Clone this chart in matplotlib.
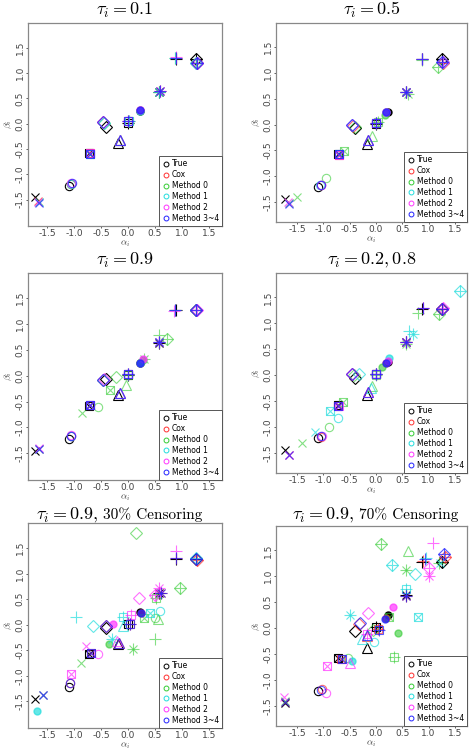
import numpy as np
import matplotlib
matplotlib.use("Agg")
import matplotlib.pyplot as plt
from matplotlib.lines import Line2D

plt.rcParams["mathtext.fontset"] = "cm"

# true coefficients (same in every panel)
alpha_true = [-1.72, -1.10, -0.72, -0.40, -0.18, 0.00, 0.22, 0.58, 0.88, 1.25]
beta_true = [-1.45, -1.22, -0.58, -0.06, -0.38, 0.02, 0.25, 0.63, 1.28, 1.28]

# estimates, rows: Cox, Method 0, Method 1, Method 2, Method 3~4
p1_alpha = [[-1.66, -1.06, -0.70, -0.46, -0.15, 0.00, 0.22, 0.59, 0.88, 1.27],
            [-1.65, -1.05, -0.70, -0.45, -0.15, 0.01, 0.22, 0.58, 0.87, 1.26],
            [-1.65, -1.05, -0.71, -0.45, -0.15, 0.01, 0.22, 0.58, 0.87, 1.26],
            [-1.66, -1.05, -0.70, -0.46, -0.15, 0.00, 0.22, 0.59, 0.88, 1.27],
            [-1.65, -1.04, -0.70, -0.46, -0.15, 0.00, 0.22, 0.59, 0.89, 1.27]]
p1_beta = [[-1.53, -1.20, -0.58, 0.03, -0.32, 0.05, 0.27, 0.64, 1.30, 1.19],
           [-1.54, -1.19, -0.59, 0.02, -0.33, 0.05, 0.26, 0.63, 1.29, 1.19],
           [-1.54, -1.19, -0.59, 0.02, -0.33, 0.05, 0.26, 0.63, 1.29, 1.20],
           [-1.54, -1.18, -0.58, 0.03, -0.32, 0.06, 0.27, 0.64, 1.31, 1.20],
           [-1.56, -1.18, -0.59, 0.03, -0.32, 0.06, 0.27, 0.64, 1.30, 1.20]]

p2_alpha = [[-1.66, -1.05, -0.70, -0.44, -0.16, 0.00, 0.20, 0.58, 0.88, 1.28],
            [-1.50, -0.95, -0.60, -0.40, -0.07, 0.04, 0.17, 0.60, 0.87, 1.17],
            [-1.66, -1.06, -0.71, -0.45, -0.16, 0.01, 0.20, 0.58, 0.88, 1.27],
            [-1.67, -1.05, -0.71, -0.45, -0.16, 0.00, 0.20, 0.57, 0.88, 1.27],
            [-1.65, -1.05, -0.70, -0.45, -0.15, 0.00, 0.20, 0.58, 0.88, 1.26]]
p2_beta = [[-1.53, -1.18, -0.59, -0.02, -0.30, 0.03, 0.25, 0.63, 1.28, 1.20],
           [-1.40, -1.03, -0.52, -0.05, -0.22, 0.05, 0.19, 0.60, 1.25, 1.12],
           [-1.52, -1.18, -0.58, -0.01, -0.30, 0.03, 0.25, 0.63, 1.28, 1.21],
           [-1.50, -1.17, -0.59, -0.01, -0.30, 0.03, 0.25, 0.64, 1.28, 1.22],
           [-1.55, -1.17, -0.58, -0.01, -0.30, 0.03, 0.25, 0.63, 1.28, 1.21]]

p3_alpha = [[-1.65, -1.05, -0.70, -0.46, -0.15, 0.00, 0.22, 0.58, 0.87, 1.26],
            [-0.85, -0.55, -0.33, -0.22, -0.03, 0.00, 0.28, 0.30, 0.57, 0.73],
            [-1.65, -1.05, -0.70, -0.46, -0.15, 0.00, 0.22, 0.58, 0.87, 1.26],
            [-1.65, -1.05, -0.70, -0.45, -0.15, 0.00, 0.28, 0.58, 0.85, 1.27],
            [-1.65, -1.05, -0.70, -0.46, -0.15, 0.00, 0.22, 0.58, 0.87, 1.26]]
p3_beta = [[-1.42, -1.16, -0.57, -0.08, -0.33, 0.03, 0.25, 0.65, 1.28, 1.28],
           [-0.73, -0.60, -0.27, -0.02, -0.17, 0.02, 0.30, 0.33, 0.78, 0.72],
           [-1.42, -1.16, -0.57, -0.08, -0.33, 0.03, 0.25, 0.65, 1.28, 1.28],
           [-1.40, -1.15, -0.57, -0.07, -0.33, 0.03, 0.32, 0.65, 1.26, 1.28],
           [-1.42, -1.16, -0.57, -0.08, -0.33, 0.03, 0.25, 0.65, 1.28, 1.28]]

p4_alpha = [[-1.65, -1.05, -0.72, -0.45, -0.15, 0.00, 0.20, 0.58, 0.90, 1.25],
            [-1.40, -0.90, -0.62, -0.42, -0.07, 0.00, 0.12, 0.58, 0.80, 1.20],
            [-1.15, -0.72, -0.87, -0.32, -0.10, 0.00, 0.25, 0.70, 0.63, 1.60],
            [-1.65, -1.03, -0.70, -0.45, -0.15, 0.00, 0.22, 0.57, 0.90, 1.28],
            [-1.65, -1.05, -0.72, -0.45, -0.15, 0.00, 0.20, 0.58, 0.90, 1.25]]
p4_beta = [[-1.55, -1.19, -0.60, 0.02, -0.32, 0.02, 0.24, 0.63, 1.30, 1.27],
           [-1.32, -1.00, -0.52, 0.00, -0.22, 0.00, 0.15, 0.60, 1.20, 1.18],
           [-1.10, -0.83, -0.70, 0.03, -0.25, 0.02, 0.32, 0.80, 0.85, 1.63],
           [-1.55, -1.17, -0.60, 0.02, -0.32, 0.02, 0.28, 0.63, 1.30, 1.30],
           [-1.55, -1.18, -0.60, 0.02, -0.32, 0.02, 0.24, 0.63, 1.30, 1.27]]

p5_alpha = [[-1.58, -1.08, -0.68, -0.40, -0.17, 0.03, 0.25, 0.62, 0.88, 1.27],
            [-0.87, 0.50, 0.30, 0.15, 0.55, 0.52, -0.35, 0.10, 0.50, 0.97],
            [-1.58, 0.60, 0.40, -0.65, -0.10, -0.10, -1.68, -0.30, -0.97, 1.25],
            [-0.78, -0.55, -1.05, 0.20, -0.20, 0.05, -0.27, 0.58, 0.88, 0.50],
            [-1.58, -1.08, -0.68, -0.40, -0.17, 0.03, 0.25, 0.62, 0.88, 1.25]]
p5_beta = [[-1.38, -1.13, -0.55, -0.03, -0.35, 0.02, 0.23, 0.63, 1.30, 1.26],
           [-0.75, 0.14, 0.13, 1.80, 0.12, 0.52, -0.38, -0.47, -0.28, 0.72],
           [-1.38, 0.27, 0.22, -0.02, -0.03, 0.16, -1.68, -0.27, 0.15, 1.30],
           [-0.42, -0.57, -0.97, 0.52, -0.32, 0.20, 0.01, 0.72, 1.45, 0.58],
           [-1.38, -1.13, -0.55, -0.03, -0.35, 0.02, 0.23, 0.63, 1.30, 1.29]]

p6_alpha = [[-1.72, -1.03, -0.67, -0.32, -0.18, 0.03, 0.20, 0.58, 0.90, 1.32],
            [-1.72, -0.53, 0.25, -0.05, 0.60, 0.35, 0.42, 0.58, 1.20, 0.10],
            [1.22, -0.03, 0.80, 0.75, -0.27, 0.58, -0.45, -0.50, 0.95, 0.30],
            [-1.75, -0.95, -0.93, -0.15, -0.50, -0.17, 0.33, 1.00, 1.08, 1.00],
            [-1.72, -1.05, -0.65, -0.30, -0.18, 0.05, 0.18, 0.58, 0.93, 1.30]]
p6_beta = [[-1.42, -1.18, -0.60, 0.08, -0.15, -0.02, 0.20, 0.62, 1.30, 1.38],
           [-1.40, -0.57, 0.22, -0.03, 1.48, -0.55, -0.10, 1.12, 1.25, 1.62],
           [1.25, -0.27, 0.21, 1.05, -0.22, 0.75, -0.63, 0.25, 1.35, 1.22],
           [-1.33, -1.25, -0.73, 0.30, -0.68, -0.12, 0.41, 1.00, 1.65, 1.16],
           [-1.43, -1.20, -0.60, 0.10, -0.13, -0.03, 0.18, 0.62, 1.33, 1.42]]

titles = [r"$\tau_i = 0.1$", r"$\tau_i = 0.5$", r"$\tau_i = 0.9$",
          r"$\tau_i = 0.2, 0.8$", r"$\tau_i = 0.9$,", r"$\tau_i = 0.9$,"]
subtitles = ["", "", "", "", "30% Censoring", "70% Censoring"]
labels = ["True", "Cox", "Method 0", "Method 1", "Method 2", "Method 3~4"]
colors = ["black", "#FF3030", "#33CC33", "#22DDDD", "#FF33FF", "#2222FF"]
alphas = [1.0, 0.7, 0.6, 0.7, 0.7, 0.75]

# R-like pch symbols, one per coefficient (compound ones are overlaid)
symbols = [["x"], ["o"], ["s", "x"], ["D"], ["^"], ["s", "+"], ["o*"],
           ["+", "x"], ["+"], ["D", "+"]]
msize = {"x": 6, "o": 6, "s": 5.5, "D": 6, "^": 7, "+": 8, "o*": 5}


def draw_points(ax, a, b, color, alpha):
    for i, sym in enumerate(symbols):
        for m in sym:
            if m == "o*":
                ax.plot(a[i], b[i], marker="o", ms=msize[m], color=color,
                        mec=color, alpha=alpha, ls="none")
            else:
                ax.plot(a[i], b[i], marker=m, ms=msize[m], color=color,
                        mfc="none", mew=0.8, alpha=alpha, ls="none")


W, H = 471, 750
fig = plt.figure(figsize=(W / 100, H / 100), dpi=100)

boxes = [(28, 23, 222, 226), (276, 23, 467, 222),
         (28, 273, 222, 480), (276, 273, 467, 473),
         (28, 523, 222, 728), (276, 526, 467, 726)]
xlims = [(-1.85, 1.74), (-1.90, 1.73)]
ylims = [(-2.02, 1.99), (-1.89, 1.97)]
# pixel extents (left, right, baseline) of the two-part titles
title_span = [(36, 202, 519), (292, 458, 519)]

alpha_sets = [p1_alpha, p2_alpha, p3_alpha, p4_alpha, p5_alpha, p6_alpha]
beta_sets = [p1_beta, p2_beta, p3_beta, p4_beta, p5_beta, p6_beta]

for k in range(6):
    l, t, r, btm = boxes[k]
    ax = fig.add_axes([l / W, 1 - btm / H, (r - l) / W, (btm - t) / H])
    col = k % 2
    draw_points(ax, alpha_true, beta_true, colors[0], alphas[0])
    for j in range(5):
        draw_points(ax, alpha_sets[k][j], beta_sets[k][j], colors[j + 1], alphas[j + 1])
    ax.set_xlim(*xlims[col])
    ax.set_ylim(*ylims[col])
    ticks = np.arange(-1.5, 1.51, 0.5)
    ax.set_xticks(ticks)
    ax.set_yticks(ticks)
    ax.set_xticklabels(["%.1f" % v for v in ticks])
    ax.set_yticklabels(["%.1f" % v for v in ticks], rotation=90, va="center")
    ax.tick_params(labelsize=6.5, length=1.5, width=0.6, colors="#444444", pad=1)
    for s in ax.spines.values():
        s.set_color("#888888")
        s.set_linewidth(0.9)
    ax.set_xlabel(r"$\alpha_i$", fontsize=7, labelpad=0, color="#444444")
    ax.set_ylabel(r"$\beta_i$", fontsize=7, labelpad=1, color="#444444")
    if subtitles[k]:
        x0, x1, yb = title_span[col]
        fig.text(x0 / W, 1 - yb / H, titles[k], ha="left", va="baseline",
                 fontsize=13, fontfamily="cmr10")
        fig.text(x1 / W, 1 - yb / H, subtitles[k], ha="right", va="baseline",
                 fontsize=11, fontfamily="cmr10")
    else:
        ax.set_title(titles[k], fontsize=13, pad=6, fontfamily="cmr10")

    handles = [Line2D([], [], marker="o", ls="none", mfc="none", mec=c, ms=3.5, mew=0.7)
               for c in colors]
    leg = ax.legend(handles, labels, loc="lower right", fontsize=5.5,
                    borderaxespad=0, handletextpad=0.2, handlelength=1.0,
                    labelspacing=0.25, borderpad=0.4, fancybox=False,
                    framealpha=1, edgecolor="#555555")
    leg.get_frame().set_linewidth(0.7)

fig.savefig("out.png", dpi=100)
